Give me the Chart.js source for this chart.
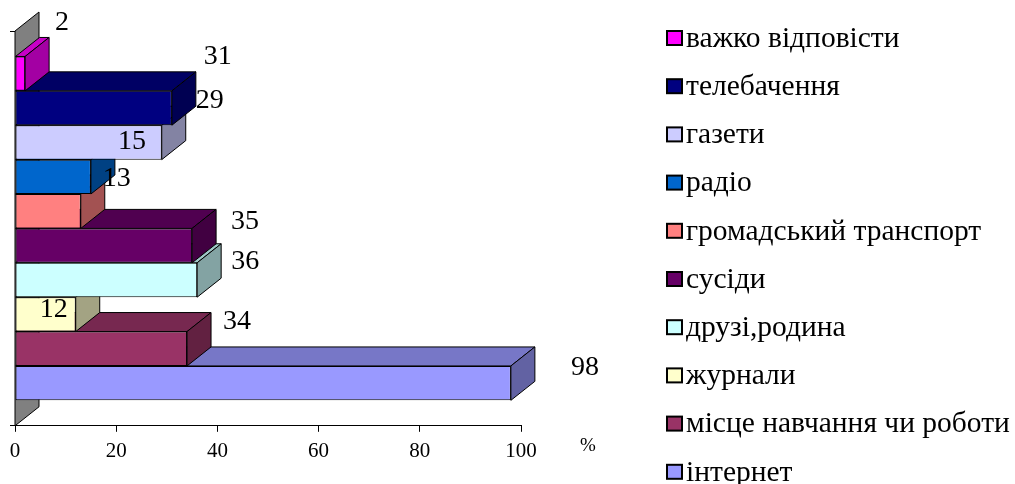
<!DOCTYPE html>
<html lang="uk">
<head>
<meta charset="utf-8">
<title>Джерела інформації</title>
<script src="https://cdn.jsdelivr.net/npm/chart.js@4.4.1/dist/chart.umd.min.js"></script>
<style>
    html, body { margin: 0; padding: 0; background: #fff; }
    #wrap { position: relative; width: 1015px; height: 484px; }
</style>
</head>
<body>
<div id="wrap"><canvas id="sourcesChart"></canvas></div>
<script>
// Дані (зверху вниз, як у легенді)
const categories = ['важко відповісти', 'телебачення', 'газети', 'радіо', 'громадський транспорт',
    'сусіди', 'друзі,родина', 'журнали', 'місце навчання чи роботи', 'інтернет'];
const values = [2, 31, 29, 15, 13, 35, 36, 12, 34, 98];
const xTicks = [0, 20, 40, 60, 80, 100];
const unitLabel = '%';

// Оформлення
const frontColors = ['#FF00FF', '#000080', '#CCCCFF', '#0066CC', '#FF8080',
    '#660066', '#CCFFFF', '#FFFFCC', '#993366', '#9999FF'];
// зсув підписів відносно кінця стовпчика (як у вихідному рисунку)
const labelNudge = [[37, -51], [46, -51], [48, -42], [41, -35], [36, -33],
    [53, -24], [48, -18], [-22, -5], [50, -27], [74, -16]];
const depth = { dx: 24, dy: 19 };
const serif = '"Liberation Serif", "Times New Roman", serif';

function shade(hex, k) {
    const n = parseInt(hex.slice(1), 16);
    const r = Math.round(((n >> 16) & 255) * k);
    const g = Math.round(((n >> 8) & 255) * k);
    const b = Math.round((n & 255) * k);
    return `rgb(${r},${g},${b})`;
}

function poly(ctx, pts, fill) {
    ctx.beginPath();
    ctx.moveTo(pts[0][0], pts[0][1]);
    for (let i = 1; i < pts.length; i++) ctx.lineTo(pts[i][0], pts[i][1]);
    ctx.closePath();
    ctx.fillStyle = fill;
    ctx.fill();
    ctx.stroke();
}

// Об'ємний вигляд: бічна стінка та верх/бік кожного стовпчика
const bars3d = {
    id: 'bars3d',
    beforeDatasetsDraw(chart) {
        const { ctx, chartArea: a } = chart;
        ctx.save();
        ctx.lineWidth = 1;
        ctx.strokeStyle = '#000';
        poly(ctx, [[a.left, a.bottom], [a.left + depth.dx, a.bottom - depth.dy],
            [a.left + depth.dx, a.top - depth.dy], [a.left, a.top]], '#808080');
        ctx.restore();
    },
    beforeDatasetDraw(chart, args) {
        const ctx = chart.ctx;
        const color = frontColors[args.index];
        ctx.save();
        ctx.lineWidth = 1;
        ctx.strokeStyle = '#000';
        args.meta.data.forEach(bar => {
            const { x, y, base, height } = bar.getProps(['x', 'y', 'base', 'height'], true);
            const top = y - height / 2;
            const bottom = y + height / 2;
            poly(ctx, [[base, top], [base + depth.dx, top - depth.dy],
                [x + depth.dx, top - depth.dy], [x, top]], shade(color, 0.78));
            poly(ctx, [[x, top], [x + depth.dx, top - depth.dy],
                [x + depth.dx, bottom - depth.dy], [x, bottom]], shade(color, 0.64));
        });
        ctx.restore();
    },
    afterDatasetsDraw(chart) {
        const ctx = chart.ctx;
        ctx.save();
        ctx.fillStyle = '#000';
        ctx.textAlign = 'center';
        ctx.textBaseline = 'middle';
        ctx.font = `28px ${serif}`;
        chart.data.datasets.forEach((ds, i) => {
            const bar = chart.getDatasetMeta(i).data[0];
            const { x, y } = bar.getProps(['x', 'y'], true);
            ctx.fillText(String(ds.data[0]), x + labelNudge[i][0], y + labelNudge[i][1]);
        });
        // одиниця виміру під віссю
        const a = chart.chartArea;
        ctx.font = `19px ${serif}`;
        ctx.fillText(unitLabel, a.right + 67, a.bottom + 20);
        ctx.restore();
    }
};

// Легенда праворуч
const sideLegend = {
    id: 'sideLegend',
    afterDraw(chart) {
        const ctx = chart.ctx;
        const left = 667, top = 38, step = 48.2;
        ctx.save();
        ctx.font = `29.5px ${serif}`;
        ctx.textBaseline = 'middle';
        ctx.textAlign = 'left';
        chart.data.datasets.forEach((ds, i) => {
            const cy = top + i * step;
            ctx.fillStyle = ds.backgroundColor;
            ctx.fillRect(left, cy - 7, 15, 14);
            ctx.lineWidth = 2;
            ctx.strokeStyle = '#000';
            ctx.strokeRect(left, cy - 7, 15, 14);
            ctx.fillStyle = '#000';
            ctx.fillText(ds.label, left + 19, cy + 1);
        });
        ctx.restore();
    }
};

document.addEventListener('DOMContentLoaded', function() {
    const ctx = document.getElementById('sourcesChart');

    new Chart(ctx, {
        type: 'bar',
        data: {
            labels: [''],
            datasets: categories.map((name, i) => ({
                label: name,
                data: [values[i]],
                backgroundColor: frontColors[i],
                borderColor: '#000',
                borderWidth: 1,
                borderSkipped: false,
                categoryPercentage: 0.871,
                barPercentage: 1
            }))
        },
        options: {
            indexAxis: 'y',
            responsive: true,
            maintainAspectRatio: false,
            animation: false,
            layout: { padding: { left: 10, top: 31, right: 494, bottom: 13 } },
            plugins: { legend: { display: false }, tooltip: { enabled: false } },
            scales: {
                x: {
                    min: 0,
                    max: 100,
                    afterBuildTicks: scale => { scale.ticks = xTicks.map(v => ({ value: v })); },
                    grid: { drawOnChartArea: false, tickLength: 6, color: '#000' },
                    border: { color: '#000' },
                    ticks: { color: '#000', padding: 7, font: { family: serif, size: 21 } }
                },
                y: {
                    ticks: { display: false },
                    grid: { drawOnChartArea: false, tickLength: 5, color: '#000' },
                    border: { color: '#000' }
                }
            }
        },
        plugins: [bars3d, sideLegend]
    });
});
</script>
</body>
</html>
